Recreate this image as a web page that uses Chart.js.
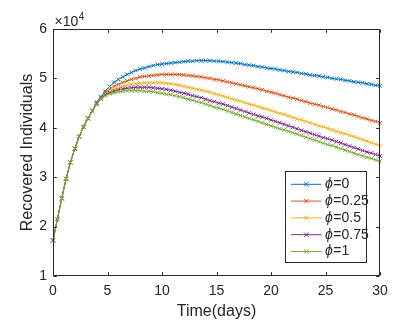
<!DOCTYPE html>
<html><head><meta charset="utf-8">
<script src="https://cdn.jsdelivr.net/npm/chart.js@4.4.0/dist/chart.umd.min.js"></script>
<style>html,body{margin:0;padding:0;background:#fff;}canvas{display:block;}</style>
</head><body>
<canvas id="c" width="404" height="325"></canvas>
<script>
// ---- data (time in days, recovered individuals) ----
const time = [
  0,0.4,0.8,1.2,1.6,2,2.4,2.8,3.2,3.6,
  4,4.4,4.8,5.2,5.6,6,6.4,6.8,7.2,7.6,
  8,8.4,8.8,9.2,9.6,10,10.4,10.8,11.2,11.6,
  12,12.4,12.8,13.2,13.6,14,14.4,14.8,15.2,15.6,
  16,16.4,16.8,17.2,17.6,18,18.4,18.8,19.2,19.6,
  20,20.4,20.8,21.2,21.6,22,22.4,22.8,23.2,23.6,
  24,24.4,24.8,25.2,25.6,26,26.4,26.8,27.2,27.6,
  28,28.4,28.8,29.2,29.6,30
];
const phiLabels = ['0','0.25','0.5','0.75','1'];
const recPhi0 = [
  17200,21500,25700,29700,33000,35800,38200,40200,41900,43400,
  45200,46300,47400,48400,49200,49800,50300,50800,51200,51600,
  51900,52100,52400,52600,52800,52900,53000,53100,53200,53300,
  53400,53500,53500,53600,53600,53600,53600,53500,53500,53400,
  53300,53200,53100,53000,52800,52700,52600,52400,52300,52100,
  52000,51900,51700,51600,51400,51300,51200,51000,50900,50700,
  50600,50500,50300,50200,50000,49900,49800,49600,49500,49300,
  49200,49100,48900,48800,48600,48500
];
const recPhi025 = [
  17200,21500,25700,29700,33000,35800,38200,40200,41900,43400,
  45000,46100,47100,47800,48400,48800,49200,49500,49800,50000,
  50300,50400,50500,50600,50700,50800,50800,50800,50800,50800,
  50700,50600,50500,50400,50300,50100,50000,49800,49700,49500,
  49300,49100,48900,48700,48500,48300,48100,47900,47700,47400,
  47200,47000,46700,46500,46200,46000,45800,45500,45300,45000,
  44800,44600,44300,44100,43800,43600,43300,43100,42800,42600,
  42300,42000,41800,41500,41300,41000
];
const recPhi05 = [
  17200,21500,25700,29700,33000,35800,38200,40200,41900,43400,
  44900,46000,46900,47400,47800,48100,48400,48600,48800,48900,
  49000,49100,49100,49100,49100,49100,49000,48900,48800,48600,
  48400,48200,48000,47800,47600,47400,47200,46900,46700,46400,
  46200,45900,45600,45400,45100,44800,44600,44300,44000,43800,
  43500,43200,42900,42700,42400,42100,41800,41600,41300,41000,
  40700,40400,40200,39900,39600,39300,39000,38800,38500,38200,
  37900,37600,37300,37000,36700,36400
];
const recPhi075 = [
  17200,21500,25700,29700,33000,35800,38200,40200,41900,43400,
  44800,45900,46700,47100,47400,47700,47900,48000,48100,48200,
  48200,48200,48200,48100,48000,47900,47800,47600,47400,47200,
  47000,46800,46500,46300,46100,45800,45500,45300,45000,44800,
  44500,44200,43900,43600,43300,43000,42700,42400,42200,41900,
  41600,41300,41000,40700,40400,40100,39800,39500,39200,38900,
  38600,38300,38000,37800,37500,37200,36900,36600,36300,36000,
  35700,35400,35100,34900,34600,34300
];
const recPhi1 = [
  17200,21500,25700,29700,33000,35800,38200,40200,41900,43400,
  44700,45800,46500,46900,47100,47300,47400,47500,47500,47500,
  47500,47400,47400,47300,47100,47000,46800,46700,46500,46300,
  46100,45800,45600,45300,45100,44800,44500,44200,44000,43700,
  43400,43100,42800,42500,42200,41900,41600,41300,41000,40700,
  40400,40100,39800,39600,39300,39000,38700,38400,38100,37800,
  37500,37200,36900,36600,36400,36100,35800,35500,35200,34900,
  34600,34300,34000,33800,33500,33200
];
const xTickValues = [0,5,10,15,20,25,30];
const yTickValues = [10000,20000,30000,40000,50000,60000];

// ---- styling ----
const seriesList = [recPhi0, recPhi025, recPhi05, recPhi075, recPhi1];
const colors = ['#0072BD','#D95319','#EDB120','#7E2F8E','#77AC30'];
const FONT = "'Liberation Sans', Arial, sans-serif";
const AX = '#262626';
Chart.defaults.font.family = FONT;
Chart.defaults.color = AX;

const datasets = seriesList.map((s, i) => ({
  label: 'ϕ=' + phiLabels[i],
  data: time.map((t, k) => ({x: t, y: s[k]})),
  borderColor: colors[i],
  backgroundColor: colors[i],
  borderWidth: 1,
  pointStyle: 'crossRot',
  pointRadius: 2.6,
  pointBorderWidth: 1,
  pointBorderColor: colors[i],
  pointHoverRadius: 2.6,
  tension: 0,
  clip: false,
  order: seriesList.length - i
}));

const boxPlugin = {
  id: 'matlabBox',
  afterDatasetsDraw(chart) {
    const {ctx, chartArea: a, scales: {x, y}} = chart;
    ctx.save();
    ctx.strokeStyle = AX;
    ctx.lineWidth = 1;
    const L = Math.round(a.left) + 0.5, R = Math.round(a.right) - 0.5;
    const T = Math.round(a.top) + 0.5, B = Math.round(a.bottom) - 0.5;
    ctx.beginPath();
    ctx.rect(L, T, R - L, B - T);
    const tl = 3.3;
    xTickValues.forEach(v => {
      const px = Math.round(x.getPixelForValue(v)) + 0.5;
      ctx.moveTo(px, B); ctx.lineTo(px, B - tl);
      ctx.moveTo(px, T); ctx.lineTo(px, T + tl);
    });
    yTickValues.forEach(v => {
      const py = Math.round(y.getPixelForValue(v)) + 0.5;
      ctx.moveTo(L, py); ctx.lineTo(L + tl, py);
      ctx.moveTo(R, py); ctx.lineTo(R - tl, py);
    });
    ctx.stroke();
    ctx.restore();
  },
  afterDraw(chart) {
    const {ctx, chartArea: a} = chart;
    ctx.save();
    // exponent label
    ctx.fillStyle = AX;
    ctx.textBaseline = 'alphabetic';
    ctx.textAlign = 'left';
    ctx.font = '14px ' + FONT;
    const base = '×10';
    ctx.fillText(base, a.left + 1.5, a.top - 3.5);
    const w = ctx.measureText(base).width;
    ctx.font = '10px ' + FONT;
    ctx.fillText('4', a.left + 1.5 + w + 0.5, a.top - 9.5);

    // legend
    const ds = chart.data.datasets;
    const bw = 81, rowH = 16.8, bh = 91;
    const bx = Math.round(a.right - 14.5 - bw) + 0.5;
    const by = Math.round(a.bottom - 14.5 - bh) + 0.5;
    ctx.fillStyle = '#ffffff';
    ctx.fillRect(bx, by, bw, bh);
    ctx.strokeStyle = AX;
    ctx.lineWidth = 1;
    ctx.strokeRect(bx, by, bw, bh);
    ds.forEach((d, i) => {
      const cy = by + 12.8 + i * rowH;
      const x0 = bx + 5.5, x1 = bx + 36, xm = (x0 + x1) / 2;
      ctx.strokeStyle = d.borderColor;
      ctx.lineWidth = 1;
      ctx.beginPath();
      ctx.moveTo(x0, cy); ctx.lineTo(x1, cy);
      const r = 2.2;
      ctx.moveTo(xm - r, cy - r); ctx.lineTo(xm + r, cy + r);
      ctx.moveTo(xm - r, cy + r); ctx.lineTo(xm + r, cy - r);
      ctx.stroke();
      ctx.fillStyle = AX;
      ctx.textBaseline = 'middle';
      const parts = d.label.split('=');
      ctx.font = 'italic 14px ' + FONT;
      const tx = bx + 39.5;
      ctx.fillText(parts[0], tx, cy);
      const pw = ctx.measureText(parts[0]).width;
      ctx.font = '14px ' + FONT;
      ctx.fillText('=' + parts[1], tx + pw + 0.5, cy);
    });
    ctx.restore();
  }
};

new Chart(document.getElementById('c'), {
  type: 'line',
  data: {datasets},
  options: {
    responsive: false,
    animation: false,
    devicePixelRatio: 1,
    layout: {padding: {top: 29, right: 24, left: 0, bottom: 0}},
    plugins: {legend: {display: false}, tooltip: {enabled: false}},
    scales: {
      x: {
        type: 'linear', min: 0, max: 30,
        afterBuildTicks: s => { s.ticks = xTickValues.map(v => ({value: v})); },
        ticks: {font: {size: 14}, color: AX, padding: 7, maxRotation: 0,
                callback: v => String(v)},
        grid: {display: false, drawTicks: false},
        border: {display: false},
        title: {display: true, text: 'Time(days)', font: {size: 16}, color: AX,
                padding: {top: 0, bottom: 4}},
        afterFit: s => { s.height = 49; }
      },
      y: {
        type: 'linear', min: 10000, max: 60000,
        afterBuildTicks: s => { s.ticks = yTickValues.map(v => ({value: v})); },
        ticks: {font: {size: 14}, color: AX, padding: 6,
                callback: v => String(v / 10000)},
        grid: {display: false, drawTicks: false},
        border: {display: false},
        title: {display: true, text: 'Recovered Individuals', font: {size: 16}, color: AX,
                padding: {top: 18.4, bottom: 0}},
        afterFit: s => { s.width = 53; }
      }
    }
  },
  plugins: [boxPlugin]
});
</script>
</body></html>
